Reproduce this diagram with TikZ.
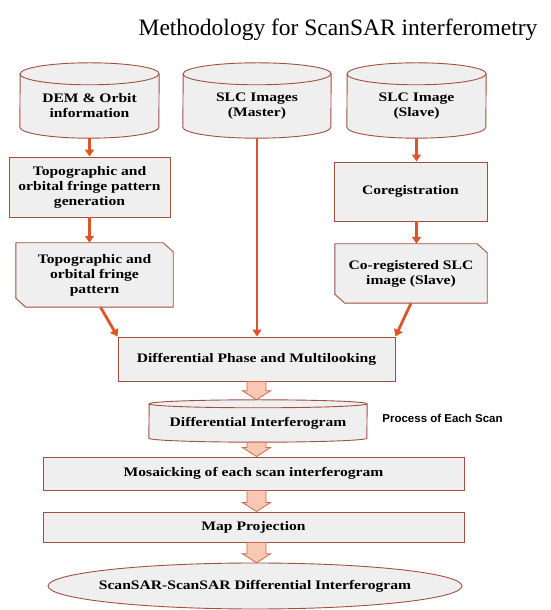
\documentclass[tikz,border=0pt]{standalone}
\usepackage{fontspec}
\setmainfont{Liberation Serif}
\newfontfamily\boxfont[FakeStretch=1.2]{Liberation Serif}
\newfontfamily\sansfont{Liberation Sans}
\usetikzlibrary{arrows.meta,calc,backgrounds}
\definecolor{boxline}{RGB}{160,80,65}
\definecolor{boxfill}{RGB}{239,239,239}
\definecolor{flow}{RGB}{222,84,40}
\definecolor{fatfill}{RGB}{248,200,180}
\definecolor{fatline}{RGB}{205,105,75}
\tikzset{
  lbl/.style={font=\boxfont\bfseries\fontsize{13}{15}\selectfont, align=center, inner sep=0pt},
  boxed/.style={lbl, draw=boxline, fill=boxfill, line width=0.9pt},
  plainlbl/.style={lbl},
  shapeline/.style={draw=boxline, fill=boxfill, line width=0.9pt},
  flowline/.style={draw=flow, line width=2.8pt, -{Triangle[width=9pt,length=7pt]}},
  fatstyle/.style={draw=fatline, fill=fatfill, line width=0.8pt, line join=miter},
}
\newcommand\cylfill[3]{%
  \filldraw[shapeline] ([yshift=#3]#1.south west) arc[start angle=180,end angle=360,x radius=#2,y radius=#3]
    -- (#1.north east) arc[start angle=0,end angle=180,x radius=#2,y radius=#3] -- cycle;
  \draw[shapeline, fill=none] (#1.north west) arc[start angle=180,end angle=360,x radius=#2,y radius=#3];}
\newcommand\docshape[1]{%
  \filldraw[shapeline] (#1.north west) -- ([xshift=-10pt]#1.north east) -- ([yshift=-9pt]#1.north east)
    -- (#1.south east) -- ([xshift=10pt]#1.south west) -- ([yshift=9pt]#1.south west) -- cycle;}
\newcommand\fatarr[2]{%
  \filldraw[fatstyle] ($(#1)+(-9.5,0)$) -- ($(#2)+(-9.5,9)$) -- ($(#2)+(-14,9)$) -- (#2)
    -- ($(#2)+(14,9)$) -- ($(#2)+(9.5,9)$) -- ($(#1)+(9.5,0)$) -- cycle;}
\begin{document}
\begin{tikzpicture}[x=1pt,y=1pt]
\useasboundingbox (0,0) rectangle (550,610);
\node[font=\fontsize{23.5}{28}\selectfont, anchor=base, inner sep=0pt] (title) at (338,574) {Methodology for ScanSAR interferometry};

% cylinders (text nodes)
\node[plainlbl, minimum width=139pt, minimum height=64pt] (dem) at (89.5,504) {DEM \& Orbit\\information};
\node[plainlbl, minimum width=148pt, minimum height=64pt] (master) at (257,504) {SLC Images\\(Master)};
\node[plainlbl, minimum width=139pt, minimum height=64pt] (slave) at (416.5,504) {SLC Image\\(Slave)};

% boxes
\node[boxed, minimum width=161pt, minimum height=60pt] (topogen) at (89.5,423) {Topographic and\\orbital fringe pattern\\generation};
\node[boxed, minimum width=153pt, minimum height=59pt] (coreg) at (410.5,418.5) {Coregistration};
\node[plainlbl, minimum width=157pt, minimum height=64pt] (topopat) at (94.5,335) {Topographic and\\orbital fringe\\pattern};
\node[plainlbl, minimum width=152pt, minimum height=59pt] (coregslc) at (411,336.5) {Co-registered SLC\\image (Slave)};
\node[boxed, minimum width=277pt, minimum height=44pt] (diffphase) at (256.5,251) {Differential Phase and Multilooking};
\node[plainlbl, minimum width=218pt, minimum height=38pt] (diffint) at (258,187) {Differential Interferogram};
\node[font=\sansfont\bfseries\fontsize{11.5}{13}\selectfont, inner sep=0pt] (scan) at (442.5,192) {Process of Each Scan};
\node[boxed, minimum width=421pt, minimum height=33pt] (mosaic) at (253.5,136.5) {Mosaicking of each scan interferogram};
\node[boxed, minimum width=421pt, minimum height=30pt] (mapproj) at (253.5,83) {Map Projection};
\node[plainlbl, minimum width=414pt, minimum height=46pt] (final) at (255,24) {ScanSAR-ScanSAR Differential Interferogram};

\begin{scope}[on background layer]
  \cylfill{dem}{69.5pt}{11pt}
  \cylfill{master}{74pt}{11pt}
  \cylfill{slave}{69.5pt}{11pt}
  \cylfill{diffint}{109pt}{4pt}
  \docshape{topopat}
  \docshape{coregslc}
  \filldraw[shapeline] (final.center) ellipse [x radius=207pt, y radius=23pt];
\end{scope}

% flow connectors
\draw[flowline] (dem) -- (topogen);
\draw[flowline] (topogen.south) -- (topogen.south |- topopat.north);
\draw[flowline] (slave.south) -- (slave.south |- coreg.north);
\draw[flowline] (slave.south |- coreg.south) -- (slave.south |- coregslc.north);
\draw[flowline] ([xshift=6pt]topopat.south) -- (diffphase.north west);
\draw[flowline] (master.south) -- (master.south |- diffphase.north);
\draw[flowline] (coregslc.south) -- (diffphase.north east);

% fat arrows
\path (diffphase.south) coordinate (fa1);
\path (diffint.north -| diffphase.south) ++(0,4) coordinate (fb1);
\path (diffint.south -| diffphase.south) coordinate (fa2);
\path (mosaic.north -| diffphase.south) coordinate (fb2);
\path (mosaic.south -| diffphase.south) coordinate (fa3);
\path (mapproj.north -| diffphase.south) coordinate (fb3);
\path (mapproj.south -| diffphase.south) coordinate (fa4);
\path (final.north -| diffphase.south) coordinate (fb4);
\fatarr{fa1}{fb1}
\fatarr{fa2}{fb2}
\fatarr{fa3}{fb3}
\fatarr{fa4}{fb4}
\end{tikzpicture}
\end{document}
